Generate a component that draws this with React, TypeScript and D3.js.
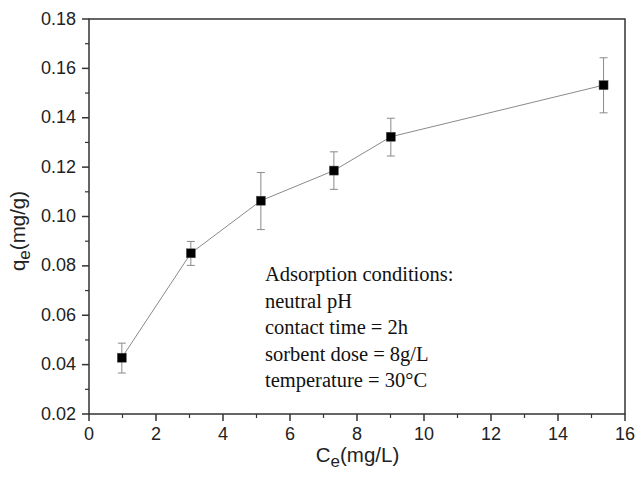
import React from "react";
import * as d3 from "d3";

const ceValues = [0.98, 3.04, 5.13, 7.31, 9.01, 15.36];
const qeValues = [0.0428, 0.0851, 0.1064, 0.1186, 0.1323, 0.1532];
const errUpper = [0.0487, 0.0899, 0.1178, 0.1262, 0.1398, 0.1643];
const errLower = [0.0366, 0.0802, 0.0947, 0.1110, 0.1245, 0.1420];
const xTicks = [0, 2, 4, 6, 8, 10, 12, 14, 16];
const yTicks = [0.02, 0.04, 0.06, 0.08, 0.1, 0.12, 0.14, 0.16, 0.18];
const conditions = [
  "Adsorption conditions:",
  "neutral pH",
  "contact time = 2h",
  "sorbent dose = 8g/L",
  "temperature = 30°C",
];

const W = 638;
const H = 484;
const left = 89;
const right = 625;
const top = 19;
const bottom = 414;

export default function App() {
  const x = d3.scaleLinear().domain([0, 16]).range([left, right]);
  const y = d3.scaleLinear().domain([0.02, 0.18]).range([bottom, top]);
  const pts = ceValues.map((c, i) => [x(c), y(qeValues[i])] as [number, number]);
  const line = d3.line()(pts) || "";
  const xMinor = d3.range(1, 16, 2);
  const yMinor = d3.range(0.03, 0.18, 0.02);
  const axisColor = "#333";
  const sans = "Arial, 'Liberation Sans', sans-serif";
  return (
    <svg
      width={W}
      height={H}
      style={{ position: "absolute", left: 0, top: 0, background: "#fff" }}
    >
      <rect x={0} y={0} width={W} height={H} fill="#fff" />
      {/* connecting line */}
      <path d={line} fill="none" stroke="#8a8a8a" strokeWidth={1} />
      {/* error bars */}
      {ceValues.map((c, i) => (
        <g key={"e" + i} stroke="#8a8a8a" strokeWidth={1}>
          <line x1={x(c)} x2={x(c)} y1={y(errUpper[i])} y2={y(errLower[i])} />
          <line x1={x(c) - 4} x2={x(c) + 4} y1={y(errUpper[i])} y2={y(errUpper[i])} />
          <line x1={x(c) - 4} x2={x(c) + 4} y1={y(errLower[i])} y2={y(errLower[i])} />
        </g>
      ))}
      {/* markers */}
      {pts.map((p, i) => (
        <rect
          key={"m" + i}
          x={p[0] - 4.5}
          y={p[1] - 4.5}
          width={9}
          height={9}
          fill="#000"
          stroke="#555"
          strokeWidth={0.5}
        />
      ))}
      {/* frame */}
      <rect
        x={left}
        y={top}
        width={right - left}
        height={bottom - top}
        fill="none"
        stroke={axisColor}
        strokeWidth={1.5}
      />
      {/* x ticks */}
      {xTicks.map((t) => (
        <g key={"xt" + t}>
          <line x1={x(t)} x2={x(t)} y1={bottom} y2={bottom + 7} stroke={axisColor} strokeWidth={1.5} />
          <text
            x={x(t)}
            y={bottom + 26}
            textAnchor="middle"
            fontFamily={sans}
            fontSize={18}
            fill="#222"
          >
            {t}
          </text>
        </g>
      ))}
      {xMinor.map((t) => (
        <line key={"xm" + t} x1={x(t)} x2={x(t)} y1={bottom} y2={bottom + 4} stroke={axisColor} strokeWidth={1.2} />
      ))}
      {/* y ticks */}
      {yTicks.map((t) => (
        <g key={"yt" + t}>
          <line x1={left - 7} x2={left} y1={y(t)} y2={y(t)} stroke={axisColor} strokeWidth={1.5} />
          <text
            x={left - 13}
            y={y(t) + 5.5}
            textAnchor="end"
            fontFamily={sans}
            fontSize={18}
            fill="#222"
          >
            {t.toFixed(2)}
          </text>
        </g>
      ))}
      {yMinor.map((t) => (
        <line key={"ym" + t} x1={left - 4} x2={left} y1={y(t)} y2={y(t)} stroke={axisColor} strokeWidth={1.2} />
      ))}
      {/* axis titles */}
      <text x={357.5} y={461.5} textAnchor="middle" fontFamily={sans} fontSize={20.5} fill="#222">
        C<tspan fontSize={17} dy={5}>e</tspan>
        <tspan dy={-5}>(mg/L)</tspan>
      </text>
      <text
        transform={`translate(25, 231) rotate(-90)`}
        textAnchor="middle"
        fontFamily={sans}
        fontSize={20.5}
        fill="#222"
      >
        q<tspan fontSize={17} dy={5}>e</tspan>
        <tspan dy={-5}>(mg/g)</tspan>
      </text>
      {/* conditions annotation */}
      {conditions.map((s, i) => (
        <text
          key={"c" + i}
          x={265}
          y={281 + i * 26.6}
          fontFamily="'Liberation Serif', 'Times New Roman', serif"
          fontSize={20.5}
          fill="#111"
        >
          {s}
        </text>
      ))}
    </svg>
  );
}
